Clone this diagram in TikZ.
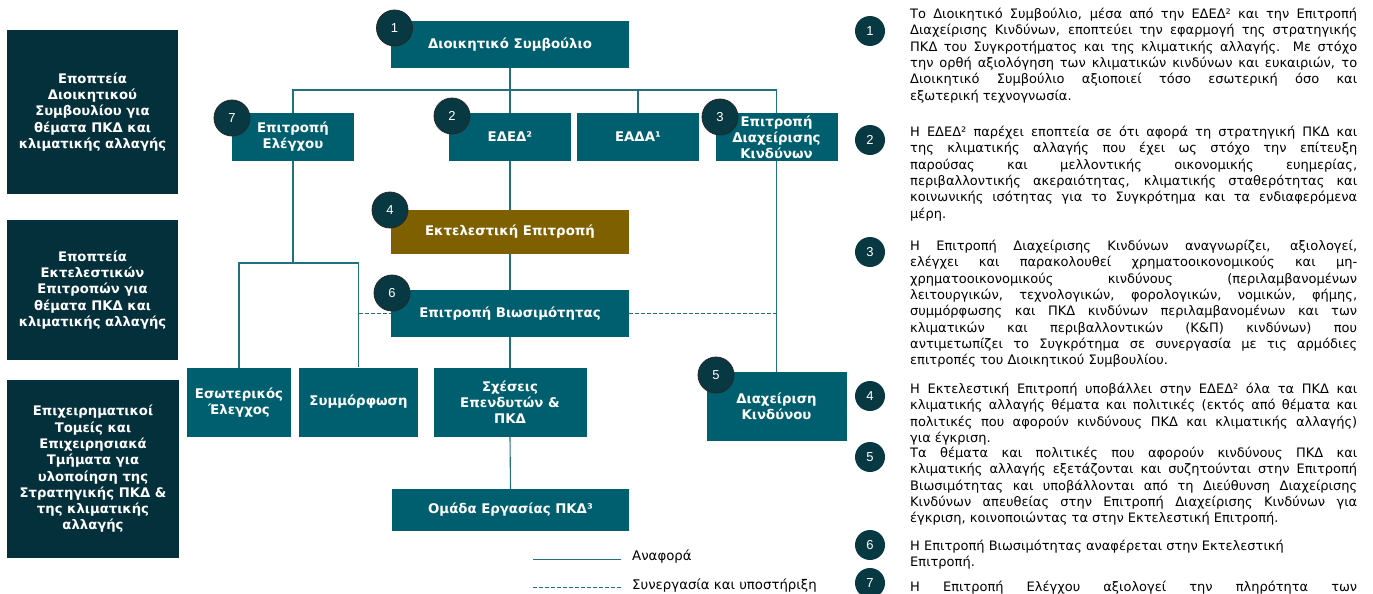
\documentclass[tikz,border=0pt]{standalone}
\usepackage{fontspec}
\setmainfont{DejaVu Sans}
\newfontfamily\numfont{Liberation Sans}
\usepackage{tikz}

\definecolor{darkpanel}{HTML}{03303A}
\definecolor{boardteal}{HTML}{005F6E}
\definecolor{execgold}{HTML}{7F6000}
\definecolor{badgedark}{HTML}{083942}
\definecolor{linkteal}{HTML}{21707F}

\begin{document}
\begin{tikzpicture}[x=1pt, y=-1pt]
    \tikzstyle{panel} = [rectangle, fill=darkpanel, text=white, align=center, inner sep=0pt, font=\bfseries\fontsize{13.2}{16.3}\selectfont]
    \tikzstyle{unit} = [rectangle, fill=boardteal, text=white, align=center, inner sep=0pt, font=\bfseries\fontsize{13.3}{16}\selectfont]
    \tikzstyle{badge} = [circle, fill=badgedark, draw=black!85, line width=0.8pt, text=white, inner sep=0pt, minimum size=36pt, font=\numfont\fontsize{13}{13}\selectfont]
    \tikzstyle{rbadge} = [circle, fill=badgedark, text=white, inner sep=0pt, minimum size=30pt, font=\numfont\fontsize{13}{13}\selectfont]
    \tikzstyle{report} = [draw=linkteal, line width=1.1pt]
    \tikzstyle{support} = [report, dash pattern=on 4pt off 2pt]
    \tikzstyle{para} = [anchor=north west, inner sep=0pt, text width=447pt, align=justify, font=\fontsize{13}{16.3}\selectfont]

    \useasboundingbox (0,0) rectangle (1373,594);

    % Left oversight panels
    \node[panel, minimum width=171pt, minimum height=164pt] (boardpanel) at (92.5,112)
        {Εποπτεία\\Διοικητικού\\Συμβουλίου για\\θέματα ΠΚΔ και\\κλιματικής αλλαγής};
    \node[panel, minimum width=171pt, minimum height=140pt] (execpanel) at (92.5,290)
        {Εποπτεία\\Εκτελεστικών\\Επιτροπών για\\θέματα ΠΚΔ και\\κλιματικής αλλαγής};
    \node[panel, minimum width=172pt, minimum height=178pt] (bizpanel) at (93,469)
        {Επιχειρηματικοί\\Τομείς και\\Επιχειρησιακά\\Τμήματα για\\υλοποίηση της\\Στρατηγικής ΠΚΔ \&\\της κλιματικής\\αλλαγής};

    % Committees and units
    \node[unit, minimum width=238pt, minimum height=47pt] (board) at (510,44.5) {Διοικητικό Συμβούλιο};
    \node[unit, minimum width=122pt, minimum height=48pt] (audit) at (293,137) {Επιτροπή\\Ελέγχου};
    \node[unit, minimum width=122pt, minimum height=48pt] (eded) at (510,137) {ΕΔΕΔ²};
    \node[unit, minimum width=122pt, minimum height=48pt] (eada) at (638,137) {ΕΑΔΑ¹};
    \node[unit, minimum width=122pt, minimum height=48pt] (riskcom) at (776.5,137) {Επιτροπή\\Διαχείρισης\\Κινδύνων};
    \node[unit, fill=execgold, minimum width=238pt, minimum height=44pt] (excom) at (510,232) {Εκτελεστική Επιτροπή};
    \node[unit, minimum width=238pt, minimum height=47pt] (sustain) at (510,313.5) {Επιτροπή Βιωσιμότητας};
    \node[unit, minimum width=104pt, minimum height=69pt] (internal) at (239,402.5) {Εσωτερικός\\Έλεγχος};
    \node[unit, minimum width=119pt, minimum height=69pt] (compliance) at (358.5,402) {Συμμόρφωση};
    \node[unit, minimum width=153pt, minimum height=69pt] (investor) at (510,402.5) {Σχέσεις\\Επενδυτών \&\\ΠΚΔ};
    \node[unit, minimum width=237pt, minimum height=42pt] (taskforce) at (510.5,510) {Ομάδα Εργασίας ΠΚΔ³};
    \node[unit, minimum width=140pt, minimum height=69pt] (riskmgmt) at (776.5,406.5) {Διαχείριση\\Κινδύνου};

    % Reporting lines
    \coordinate (bus) at (510,90);
    \draw[report] (board.south) -- (eded.north);
    \draw[report] (audit.north) -- (audit.north |- bus) -- (riskcom.north |- bus) -- (riskcom.north);
    \draw[report] (eada.north) -- (eada.north |- bus);
    \draw[report] (eded.south) -- (excom.north);
    \draw[report] (excom.south) -- (sustain.north);
    \draw[report] (sustain.south) -- (investor.north);
    \draw[report] (investor.south) -- (taskforce.north);
    \draw[report] (riskcom.south) -- (riskmgmt.north);
    \coordinate (auditfork) at (293,263);
    \draw[report] (audit.south) -- (auditfork);
    \draw[report] (internal.north) |- (auditfork) -| (compliance.north);

    % Cooperation lines
    \draw[support] (compliance.north |- sustain.west) -- (sustain.west);
    \draw[support] (sustain.east) -- (sustain.east -| riskmgmt.north);

    % Numbered badges on the chart
    \foreach \n/\x/\y in {1/394.5/28, 2/452/116, 3/720/117, 4/390/210, 5/716/375, 6/392/293, 7/232/118}
        \node[badge] (b\n) at (\x,\y) {\n};

    % Numbered notes on the right
    \foreach \n/\y in {1/31, 2/140, 3/252, 4/396, 5/457, 6/545, 7/583}
        \node[rbadge] (n\n) at (870,\y) {\n};

    \node[para] (p1) at (910,7) {\strut Το Διοικητικό Συμβούλιο, μέσα από την ΕΔΕΔ² και την Επιτροπή\linebreak
        Διαχείρισης Κινδύνων, εποπτεύει την εφαρμογή της στρατηγικής\linebreak
        ΠΚΔ του Συγκροτήματος και της κλιματικής αλλαγής. Με στόχο\linebreak
        την ορθή αξιολόγηση των κλιματικών κινδύνων και ευκαιριών, το\linebreak
        Διοικητικό Συμβούλιο αξιοποιεί τόσο εσωτερική όσο και\linebreak
        εξωτερική τεχνογνωσία.};
    \node[para] (p2) at (910,125) {\strut Η ΕΔΕΔ² παρέχει εποπτεία σε ότι αφορά τη στρατηγική ΠΚΔ και\linebreak
        της κλιματικής αλλαγής που έχει ως στόχο την επίτευξη\linebreak
        παρούσας και μελλοντικής οικονομικής ευημερίας,\linebreak
        περιβαλλοντικής ακεραιότητας, κλιματικής σταθερότητας και\linebreak
        κοινωνικής ισότητας για το Συγκρότημα και τα ενδιαφερόμενα\linebreak
        μέρη.};
    \node[para] (p3) at (910,239) {\strut Η Επιτροπή Διαχείρισης Κινδύνων αναγνωρίζει, αξιολογεί,\linebreak
        ελέγχει και παρακολουθεί χρηματοοικονομικούς και μη-\linebreak
        χρηματοοικονομικούς κινδύνους (περιλαμβανομένων\linebreak
        λειτουργικών, τεχνολογικών, φορολογικών, νομικών, φήμης,\linebreak
        συμμόρφωσης και ΠΚΔ κινδύνων περιλαμβανομένων και των\linebreak
        κλιματικών και περιβαλλοντικών (Κ\&Π) κινδύνων) που\linebreak
        αντιμετωπίζει το Συγκρότημα σε συνεργασία με τις αρμόδιες\linebreak
        επιτροπές του Διοικητικού Συμβουλίου.};
    \node[para] (p4) at (910,382) {\strut Η Εκτελεστική Επιτροπή υποβάλλει στην ΕΔΕΔ² όλα τα ΠΚΔ και\linebreak
        κλιματικής αλλαγής θέματα και πολιτικές (εκτός από θέματα και\linebreak
        πολιτικές που αφορούν κινδύνους ΠΚΔ και κλιματικής αλλαγής)\linebreak
        για έγκριση.};
    \node[para] (p5) at (910,446) {\strut Τα θέματα και πολιτικές που αφορούν κινδύνους ΠΚΔ και\linebreak
        κλιματικής αλλαγής εξετάζονται και συζητούνται στην Επιτροπή\linebreak
        Βιωσιμότητας και υποβάλλονται από τη Διεύθυνση Διαχείρισης\linebreak
        Κινδύνων απευθείας στην Επιτροπή Διαχείρισης Κινδύνων για\linebreak
        έγκριση, κοινοποιώντας τα στην Εκτελεστική Επιτροπή.};
    \node[para] (p6) at (910,539) {\strut Η Επιτροπή Βιωσιμότητας αναφέρεται στην Εκτελεστική\\
        Επιτροπή.};
    \node[para] (p7) at (910,580) {\strut Η Επιτροπή Ελέγχου αξιολογεί την πληρότητα των\linebreak\mbox{}};

    % Legend
    \coordinate (solidA) at (533,559);
    \coordinate (solidB) at (621,559);
    \coordinate (dashA) at (533,587);
    \coordinate (dashB) at (621,587);
    \draw[report, line width=0.9pt] (solidA) -- (solidB);
    \draw[support, line width=0.9pt] (dashA) -- (dashB);
    \node[anchor=west, inner sep=0pt, font=\fontsize{13.3}{15}\selectfont] (solidlabel) at (632,557) {Αναφορά};
    \node[anchor=west, inner sep=0pt, font=\fontsize{13.3}{15}\selectfont] (dashlabel) at (632,586) {Συνεργασία και υποστήριξη};
\end{tikzpicture}
\end{document}
